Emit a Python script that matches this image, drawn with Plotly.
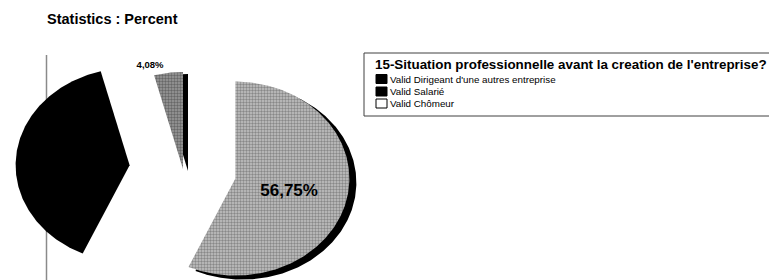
import numpy as np
import plotly.graph_objects as go

# ---- data ----
categories = ["Valid Dirigeant d'une autres entreprise", "Valid Salarié", "Valid Chômeur"]
percent = [56.75, 39.17, 4.08]
legend_swatch = ["black", "black", "white"]
chart_title = "Statistics : Percent"
legend_title = "15-Situation professionnelle avant la creation de l'entreprise?"

# ---- styling / geometry (page pixel units; the page body adds an 8px offset) ----
W, H = 777, 280
OFF = 8
slice_fill = ["#a8a8a8", "black", "#7c7c7c"]
slice_pat_bg = ["#c4c4c4", "black", "#9a9a9a"]
slice_pat_fg = ["#4c4c4c", "black", "#333333"]
slice_pull = [0.47, 0.47, 0.0]
slice_shadow = [True, False, True]
shadow_dx = [7, 0, 5]
shadow_dy = [4, 0, 2]
label_size = [17, 10, 9.5]
cx, cy, rx, ry = 183, 169, 114, 97


def px_x(x):
    return (x - OFF) / W


def px_y(y):
    return 1 - (y - OFF) / H


fig = go.Figure()

total = sum(percent)
starts = np.cumsum([0] + percent[:-1]) / total * 360.0
ends = np.cumsum(percent) / total * 360.0

polys = []
for i, v in enumerate(percent):
    a0, a1 = starts[i], ends[i]
    mid = np.radians((a0 + a1) / 2)
    vx = cx + slice_pull[i] * rx * np.sin(mid)
    vy = cy - slice_pull[i] * ry * np.cos(mid)
    th = np.radians(np.linspace(a0, a1, max(int((a1 - a0) * 1.5), 4)))
    xs = np.concatenate([[vx], vx + rx * np.sin(th), [vx]])
    ys = np.concatenate([[vy], vy - ry * np.cos(th), [vy]])
    polys.append((xs, ys, vx, vy, mid))

# shadows (3D edge) first
for i, (xs, ys, vx, vy, mid) in enumerate(polys):
    if slice_shadow[i]:
        fig.add_trace(go.Scatter(x=xs + shadow_dx[i], y=ys + shadow_dy[i], mode="lines", fill="toself",
                                 fillcolor="black", line=dict(width=0, color="black"),
                                 hoverinfo="skip", showlegend=False))

for i, (xs, ys, vx, vy, mid) in enumerate(polys):
    pat = dict(shape=".", fgcolor=slice_pat_fg[i], bgcolor=slice_pat_bg[i], size=3, solidity=0.5) \
        if slice_fill[i] != "black" else None
    fig.add_trace(go.Scatter(x=xs, y=ys, mode="lines", fill="toself",
                             fillcolor=slice_fill[i], fillpattern=pat,
                             line=dict(width=0, color=slice_fill[i]),
                             name=categories[i], hoverinfo="name", showlegend=False))

# percentage labels (big slice inside, small slice outside; black slice label invisible in reference)
lab_x, lab_y, lab_t, lab_pos, lab_sz = [], [], [], [], []
for i, (xs, ys, vx, vy, mid) in enumerate(polys):
    txt = f"{percent[i]:.2f}%".replace(".", ",")
    if percent[i] > 20 and slice_fill[i] != "black":
        lab_x.append(vx + 0.5 * rx * np.sin(mid) - 2)
        lab_y.append(vy - 0.5 * ry * np.cos(mid) + 3)
        lab_pos.append("middle center")
    elif percent[i] <= 20:
        a0 = np.radians(starts[i])
        lab_x.append(vx + rx * np.sin(a0) - 4)
        lab_y.append(vy - ry * np.cos(a0) - 5)
        lab_pos.append("top center")
    else:
        continue
    lab_t.append(txt)
    lab_sz.append(label_size[i])

fig.add_trace(go.Scatter(x=lab_x, y=lab_y, text=lab_t, mode="text", textposition=lab_pos,
                         textfont=dict(family="Arial, Liberation Sans", size=lab_sz, color="black",
                                       weight="bold"),
                         hoverinfo="skip", showlegend=False))

shapes = []
shapes.append(dict(type="line", xref="paper", yref="paper", x0=px_x(46.5), x1=px_x(46.5),
                   y0=px_y(55), y1=0, line=dict(color="#8a8a8a", width=1.5), layer="below"))
shapes.append(dict(type="rect", xref="paper", yref="paper", x0=px_x(364), x1=1,
                   y0=px_y(116), y1=px_y(53), line=dict(color="#404040", width=1),
                   fillcolor="rgba(0,0,0,0)"))

annotations = [dict(text=legend_title, xref="paper", yref="paper", x=px_x(373), y=px_y(65),
                    xanchor="left", yanchor="middle", showarrow=False,
                    font=dict(family="Arial, Liberation Sans", size=13.4, color="black", weight="bold"))]

row_y = [79, 91.5, 103.5]
for lab, col, ry_ in zip(categories, legend_swatch, row_y):
    shapes.append(dict(type="rect", xref="paper", yref="paper", x0=px_x(376), x1=px_x(387),
                       y0=px_y(ry_ + 4.5), y1=px_y(ry_ - 4.5), fillcolor=col,
                       line=dict(color="black", width=1)))
    annotations.append(dict(text=lab, xref="paper", yref="paper", x=px_x(388), y=px_y(ry_),
                            xanchor="left", yanchor="middle", showarrow=False,
                            font=dict(family="Arial, Liberation Sans", size=9.8, color="black")))

fig.update_layout(
    width=W, height=H,
    margin=dict(l=0, r=0, t=0, b=0, autoexpand=False),
    paper_bgcolor="white", plot_bgcolor="white",
    xaxis=dict(range=[OFF, OFF + W], visible=False, fixedrange=True),
    yaxis=dict(range=[OFF + H, OFF], visible=False, fixedrange=True),
    title=dict(text=chart_title, x=px_x(47), xanchor="left", xref="paper",
               y=1 - (19 - OFF) / H, yref="container", yanchor="middle",
               font=dict(family="Arial, Liberation Sans", size=14.5, color="black", weight="bold")),
    shapes=shapes, annotations=annotations,
    showlegend=False,
)

fig.write_html("out.html")
